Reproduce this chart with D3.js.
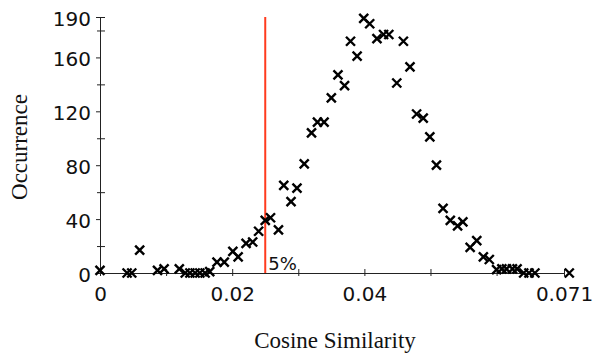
<!DOCTYPE html>
<html>
<head>
<meta charset="utf-8">
<script src="https://cdn.jsdelivr.net/npm/d3@7"></script>
<style>
  html, body { margin: 0; padding: 0; background: #fff; }
  svg { display: block; }
</style>
</head>
<body>
<svg id="chart" width="597" height="354"></svg>
<script>
// cosine similarity bins (x) and their occurrence counts (y)
const similarity = [
  0, 0.0041, 0.0048, 0.0060, 0.0087, 0.0097, 0.0120, 0.0129, 0.0136, 0.0144,
  0.0151, 0.0159, 0.0166, 0.0177, 0.0188, 0.0201, 0.0209, 0.0221, 0.0231, 0.0240,
  0.0250, 0.0258, 0.0270, 0.0278, 0.0289, 0.0298, 0.0309, 0.0320, 0.0329, 0.0339,
  0.0350, 0.0360, 0.0370, 0.0379, 0.0389, 0.0399, 0.0408, 0.0419, 0.0429, 0.0437,
  0.0449, 0.0459, 0.0469, 0.0479, 0.0489, 0.0499, 0.0509, 0.0519, 0.0530, 0.0541,
  0.0549, 0.0560, 0.0570, 0.0580, 0.0589, 0.0600, 0.0608, 0.0615, 0.0624, 0.0631,
  0.0641, 0.0649, 0.0658, 0.0710
];
const occurrence = [
  2, 0, 0, 17, 2, 3, 3, 0, 0, 0,
  0, 0, 1, 8, 8, 16, 12, 22, 23, 31,
  39, 41, 32, 65, 53, 63, 81, 104, 112, 112,
  130, 147, 139, 172, 161, 189, 185, 174, 177, 177,
  141, 172, 153, 118, 115, 101, 80, 48, 39, 35,
  38, 19, 24, 12, 10, 2.5, 3, 3, 3, 3,
  0, 0, 0, 0
];

const xTickValues = [0, 0.02, 0.04, 0.0702];
const xTickLabels = ['0', '0.02', '0.04', '0.071'];
const xMinorTicks = [0.01, 0.03, 0.05, 0.06];
const yTickValues = [0, 40, 80, 120, 160, 190];
const yMinorTicks = [20, 60, 100, 140, 180];
const threshold = 0.025;
const thresholdLabel = '5%';

const svg = d3.select('#chart');

const x = d3.scaleLinear().domain([0, 0.0702]).range([100, 564]);
const y = d3.scaleLinear().domain([0, 190]).range([273, 17]);

const tickFont = '"DejaVu Sans", Verdana, sans-serif';
const titleFont = '"Liberation Serif", "Times New Roman", serif';

// x axis
const gx = svg.append('g')
    .attr('transform', `translate(0,${y(0)})`)
    .call(d3.axisBottom(x)
      .tickValues(xTickValues)
      .tickFormat((d, i) => xTickLabels[i])
      .tickSizeOuter(0)
      .tickSize(3));
gx.selectAll('.tick line').attr('y1', -4).attr('y2', 3);
gx.selectAll('.tick text')
    .attr('y', 14)
    .style('font-family', tickFont)
    .style('font-size', '20px')
    .attr('fill', '#111');

svg.append('g')
    .attr('transform', `translate(0,${y(0)})`)
    .call(d3.axisBottom(x).tickValues(xMinorTicks).tickFormat('').tickSizeOuter(0))
    .call(g => g.select('.domain').remove())
    .selectAll('.tick line').attr('y1', -4).attr('y2', 3);

// y axis
const gy = svg.append('g')
    .attr('transform', `translate(${x(0)},0)`)
    .call(d3.axisLeft(y)
      .tickValues(yTickValues)
      .tickSizeOuter(0)
      .tickSize(4)
      .tickPadding(5));
gy.selectAll('.tick text')
    .attr('dy', '0.42em')
    .style('font-family', tickFont)
    .style('font-size', '20px')
    .attr('fill', '#111');
gy.selectAll('.tick').filter(d => d === 190).select('line').attr('x1', 5);

svg.append('g')
    .attr('transform', `translate(${x(0)},0)`)
    .call(d3.axisRight(y).tickValues(yMinorTicks).tickFormat('').tickSizeOuter(0).tickSize(5))
    .call(g => g.select('.domain').remove())
    .selectAll('.tick line').attr('x1', -3);

svg.selectAll('.domain, .tick line').attr('stroke', '#222');

// threshold line
svg.append('line')
    .attr('x1', x(threshold)).attr('x2', x(threshold))
    .attr('y1', y(190)).attr('y2', y(0))
    .attr('stroke', '#ff3b1e')
    .attr('stroke-width', 2);

svg.append('text')
    .attr('x', x(threshold) + 3)
    .attr('y', y(0) - 3)
    .style('font-family', tickFont)
    .style('font-size', '18px')
    .attr('fill', '#111')
    .text(thresholdLabel);

// markers
const data = similarity.map((s, i) => ({ s, n: occurrence[i] }));
const r = 4.5;
svg.append('g')
  .selectAll('path')
  .data(data)
  .join('path')
    .attr('transform', d => `translate(${x(d.s)},${y(d.n)})`)
    .attr('d', `M${-r},${-r}L${r},${r}M${-r},${r}L${r},${-r}`)
    .attr('stroke', '#000')
    .attr('stroke-width', 2.4)
    .attr('fill', 'none');

// axis titles
svg.append('text')
    .attr('transform', 'translate(27,147) rotate(-90)')
    .attr('text-anchor', 'middle')
    .style('font-family', titleFont)
    .style('font-size', '23px')
    .attr('fill', '#111')
    .text('Occurrence');

svg.append('text')
    .attr('x', 335)
    .attr('y', 348)
    .attr('text-anchor', 'middle')
    .style('font-family', titleFont)
    .style('font-size', '23px')
    .attr('fill', '#111')
    .text('Cosine Similarity');
</script>
</body>
</html>
